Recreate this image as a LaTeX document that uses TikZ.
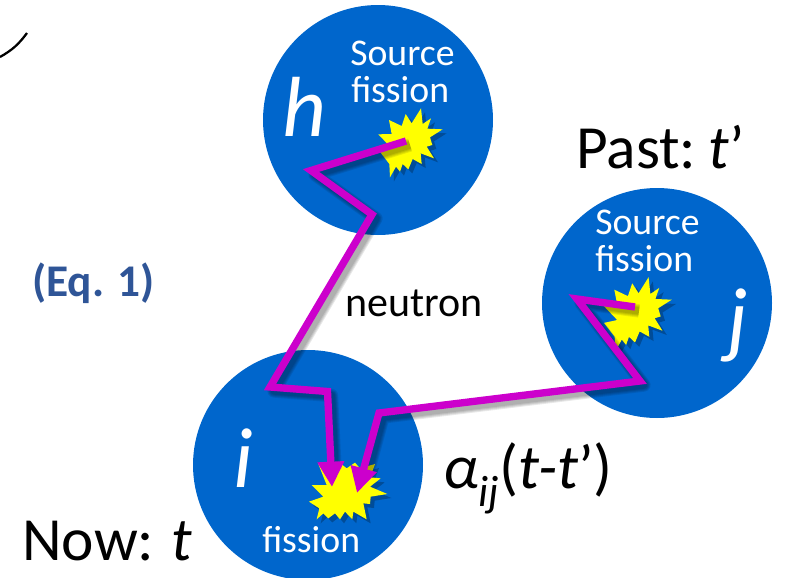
\documentclass[tikz,border=0pt]{standalone}
\usepackage{fontspec}
\setmainfont{Carlito}
\usetikzlibrary{arrows.meta}
\definecolor{discblue}{HTML}{0066CC}
\definecolor{burst}{HTML}{FFFF00}
\definecolor{neutronpath}{HTML}{CC00CC}
\definecolor{eqblue}{HTML}{2F5597}
\tikzset{
  disc/.style={circle,fill=discblue,draw=none,minimum size=345pt/2,inner sep=0pt},
  whitetxt/.style={anchor=base west,inner sep=0pt,text=white,font=\fontsize{28.3}{28.3}\selectfont},
  varlabel/.style={anchor=base west,inner sep=0pt,text=white,font=\fontsize{64}{64}\selectfont\itshape},
  blacktxt/.style={anchor=base west,inner sep=0pt,text=black,font=\fontsize{46}{46}\selectfont},
  neutron/.style={draw=neutronpath,line width=5.5pt,miter limit=20},
  neutronarrow/.style={neutron,-{Triangle[length=19pt,width=19pt]}},
}
\newcommand{\softshadow}[1]{%
  \begin{scope}[transform canvas={shift={(3pt,-3pt)}}]
    \foreach \w in {10,8.5,7,5.5}{ \draw[black,opacity=.09,line width=\w pt,line join=round] #1; }
  \end{scope}}
\newcommand{\burstH}{(483,295)--(488,342)--(513,325)--(502,356)--(548,358)--(510,382)--(517,405)--(500,410)--(522,445)--(482,430)--(485,462)--(458,447)--(445,478)--(428,462)--(420,485)--(408,470)--(390,502)--(388,462)--(358,423)--(395,415)--(355,373)--(395,372)--(387,330)--(425,348)--(437,312)--(455,340)--cycle}
\newcommand{\burstI}{(355,372)--(400,385)--(415,365)--(440,385)--(465,368)--(480,385)--(525,372)--(510,412)--(542,415)--(510,440)--(562,462)--(512,470)--(510,492)--(490,490)--(500,538)--(460,515)--(457,538)--(435,515)--(420,538)--(405,520)--(385,535)--(370,520)--(350,538)--(358,505)--(327,485)--(370,470)--(335,435)--(380,435)--cycle}
\begin{document}
\begin{tikzpicture}[x=0.75pt,y=-0.75pt]
\useasboundingbox (0,0) rectangle (786,578);
% stray stroke
\coordinate (s0) at (0,57);
\coordinate (s1) at (27,33);
\draw[black,line width=1.7pt] (s0) to[bend right=12] (s1);
% discs
\node[disc] (h) at (378,120) {};
\node[disc] (i) at (308,465) {};
\node[disc] (j) at (657,303) {};
% bursts
\begin{scope}[shift={(260,10)},x=0.25pt,y=-0.25pt]
  \fill[black,opacity=.25,shift={(12,12)}] \burstH;
  \fill[burst] \burstH;
\end{scope}
\begin{scope}[shift={(476.3,172)},x=0.2675pt,y=-0.2675pt]
  \fill[black,opacity=.25,shift={(12,12)}] \burstH;
  \fill[burst] \burstH;
\end{scope}
\begin{scope}[shift={(200,340)},x=0.25pt,y=-0.25pt]
  \fill[black,opacity=.25,shift={(12,12)}] \burstI;
  \fill[burst] \burstI;
\end{scope}
% neutron paths
\coordinate (a0) at (406,141);
\coordinate (a1) at (311,170.5);
\coordinate (a2) at (372,214.5);
\coordinate (a3) at (270,387);
\coordinate (a4) at (327.5,391.5);
\coordinate (a5) at (332,487);
\coordinate (b0) at (635,307);
\coordinate (b1) at (577,299);
\coordinate (b2) at (640,381);
\coordinate (b3) at (379,413);
\coordinate (b4) at (357,493);
\coordinate (a5s) at (331,465);
\coordinate (b4s) at (363,472);
\softshadow{(a0)--(a1)--(a2)--(a3)--(a4)--(a5s)}
\softshadow{(b0)--(b1)--(b2)--(b3)--(b4s)}
\draw[neutronarrow] (a0)--(a1)--(a2)--(a3)--(a4)--(a5);
\draw[neutronarrow] (b0)--(b1)--(b2)--(b3)--(b4);
% labels
\node[whitetxt] (t1) at (350,65) {Source};
\node[whitetxt] (t2) at (351,102) {fission};
\node[whitetxt] (t3) at (595,234) {Source};
\node[whitetxt] (t4) at (595,271) {fission};
\node[whitetxt] (t5) at (262,552) {fission};
\node[varlabel] (lh) at (282,136) {h};
\node[varlabel] (li) at (233,487) {i};
\node[varlabel] (lj) at (727,347) {j};
\node[blacktxt] (past) at (576,168) {Past:\hspace{.2em}\textit{t}’};
\node[blacktxt] (now) at (22,560) {Now:\hspace{.28em}\textit{t}};
\node[anchor=base west,inner sep=0pt,text=black,font=\fontsize{47}{47}\selectfont] (alpha) at (443,488) {\textit{α\textsubscript{ij}}(\textit{t-t}’)};
\node[anchor=base west,inner sep=0pt,font=\fontsize{31.5}{31.5}\selectfont] (neu) at (345,316) {neutron};
\node[anchor=base west,inner sep=0pt,text=eqblue,font=\fontsize{34}{34}\selectfont\bfseries] (eq) at (32,296) {(Eq.\hspace{.3em}1)};
\end{tikzpicture}
\end{document}
